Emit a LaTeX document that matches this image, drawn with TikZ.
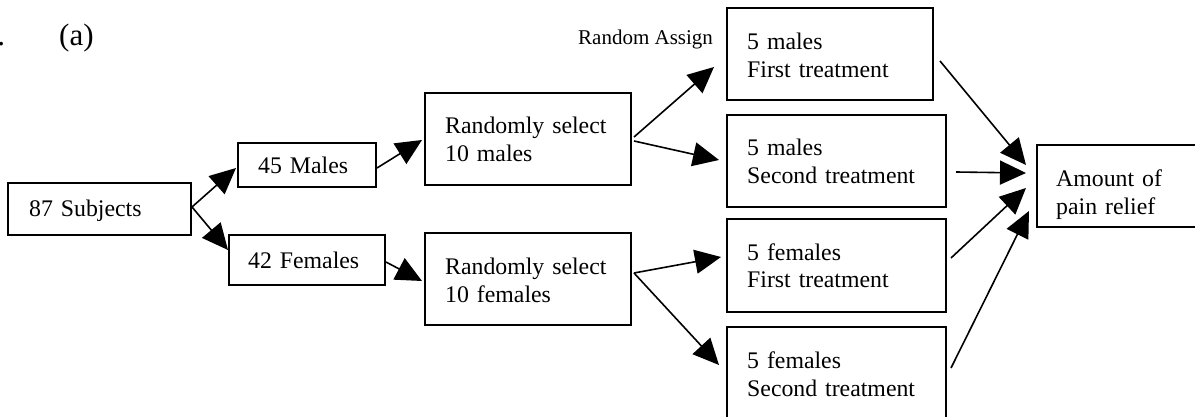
\documentclass[tikz,border=0pt]{standalone}
\usepackage{fontspec}
\setmainfont{Liberation Serif}
\usetikzlibrary{arrows.meta,calc}
\begin{document}
\begin{tikzpicture}[x=1pt,y=-1pt,
  box/.style={draw, line width=2pt, inner sep=0pt},
  txt/.style={inner sep=0pt, anchor=base west, align=left, text width=220pt,
    font=\fontsize{23.8}{28}\selectfont},
  small/.style={inner sep=0pt, anchor=base west, font=\fontsize{21}{25}\selectfont},
  arr/.style={line width=1.6pt, -{Triangle[length=26pt,width=24pt]}}]
\useasboundingbox (0,0) rectangle (1195,417);

% labels above the chart
\node[inner sep=0pt, anchor=base west, font=\fontsize{31}{36}\selectfont] (dot) at (-2.7,46) {.};
\node[inner sep=0pt, anchor=base west, font=\fontsize{31}{36}\selectfont] (part) at (59,46) {(a)};
\node[small] (assign) at (578,45) {Random Assign};

% boxes
\node[box, minimum width=183pt, minimum height=52pt] (subj)  at (99.5,209) {};
\node[box, minimum width=138pt, minimum height=44pt] (males) at (307,165) {};
\node[box, minimum width=156pt, minimum height=50pt] (fem)   at (307,260) {};
\node[box, minimum width=206pt, minimum height=92pt] (selm)  at (528,139) {};
\node[box, minimum width=206pt, minimum height=92pt] (self)  at (528,279) {};
\node[box, minimum width=206pt, minimum height=92pt] (m1)    at (830,54) {};
\node[box, minimum width=219pt, minimum height=92pt] (m2)    at (836.5,161) {};
\node[box, minimum width=219pt, minimum height=93pt] (f1)    at (836.5,265.5) {};
\node[box, minimum width=219pt, minimum height=92pt] (f2)    at (836.5,373) {};
\node[box, minimum width=161pt, minimum height=82pt] (pain)  at (1117.5,186) {};

% box texts
\node[txt] (tsubj)  at (29,217)  {87 Subjects};
\node[txt] (tmales) at (258,174) {45 Males};
\node[txt] (tfem)   at (248,269) {42 Females};
\node[txt] (tselm)  at (445,134) {Randomly select\\10 males};
\node[txt] (tself)  at (445,274) {Randomly select\\10 females};
\node[txt] (tm1)    at (747,50)  {5 males\\First treatment};
\node[txt] (tm2)    at (747,156) {5 males\\Second treatment};
\node[txt] (tf1)    at (747,260) {5 females\\First treatment};
\node[txt] (tf2)    at (747,368) {5 females\\Second treatment};
\node[txt] (tpain)  at (1056,187) {Amount of\\pain relief};

% connectors
\draw[arr] ($(subj.east)+(0,-2)$) -- ($(males.west)+(-1,3)$);
\draw[arr] ($(subj.east)+(0,-2)$) -- ($(fem.west)+(0,-10)$);
\draw[arr] ($(males.east)+(0,3)$) -- ($(selm.west)+(-2,1)$);
\draw[arr] ($(fem.east)+(0,2)$)   -- ($(self.west)+(-2,2)$);
\draw[arr] ($(selm.east)+(2,-2)$) -- ($(m1.west)+(-12,13)$);
\draw[arr] ($(selm.east)+(2,2)$)  -- ($(m2.west)+(-7,-1)$);
\draw[arr] ($(self.east)+(2,-6)$) -- ($(f1.west)+(-5,-8.5)$);
\draw[arr] ($(self.east)+(2,-6)$) -- ($(f2.west)+(-7,-8)$);
\draw[arr] ($(m1.east)+(6,7)$)    -- ($(pain.west)+(-10,-21)$);
\draw[arr] ($(m2.east)+(9,11)$)   -- ($(pain.west)+(-10,-13)$);
\draw[arr] ($(f1.east)+(4,-7.5)$) -- ($(pain.west)+(-10,2)$);
\draw[arr] ($(f2.east)+(4,-5)$)   -- ($(pain.west)+(-7,25)$);
\end{tikzpicture}
\end{document}
